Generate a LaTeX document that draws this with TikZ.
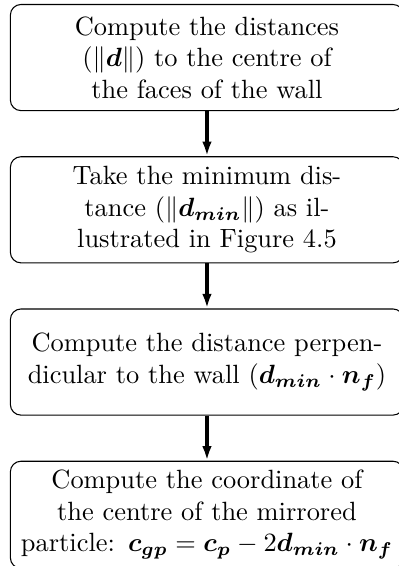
\documentclass[tikz,border=0pt]{standalone}
\usepackage{amsmath}
\usetikzlibrary{positioning,arrows.meta}
\tikzset{
  stepbox/.style={draw, rounded corners=4pt, text width=5cm, align=center,
    minimum height=40.2pt, inner sep=3.333pt, line width=0.4pt},
  flowarrow/.style={-{Latex[length=5.5pt,width=3.6pt]}, line width=1.2pt}
}
\begin{document}
\begin{tikzpicture}[node distance=17.07pt]
\useasboundingbox (0,0) rectangle (150.76pt,-214.4pt);
\node[stepbox, anchor=north] (b1) at (78.4pt,-1.5pt)
  {Compute the distances ($\|\boldsymbol{d}\|$) to the centre of the faces of the wall};
\node[stepbox, below=of b1] (b2)
  {Take the minimum dis-\\tance ($\|\boldsymbol{d_{min}}\|$) as il-\\lustrated in Figure 4.5};
\node[stepbox, below=of b2] (b3)
  {Compute the distance perpen-\\dicular to the wall ($\boldsymbol{d_{min}}\cdot\boldsymbol{n_f}$)};
\node[stepbox, below=of b3] (b4)
  {Compute the coordinate of\\the centre of the mirrored\\particle: $\boldsymbol{c_{gp}}=\boldsymbol{c_p}-2\boldsymbol{d_{min}}\cdot\boldsymbol{n_f}$};
\draw[flowarrow] (b1) -- (b2);
\draw[flowarrow] (b2) -- (b3);
\draw[flowarrow] (b3) -- (b4);
\end{tikzpicture}
\end{document}
